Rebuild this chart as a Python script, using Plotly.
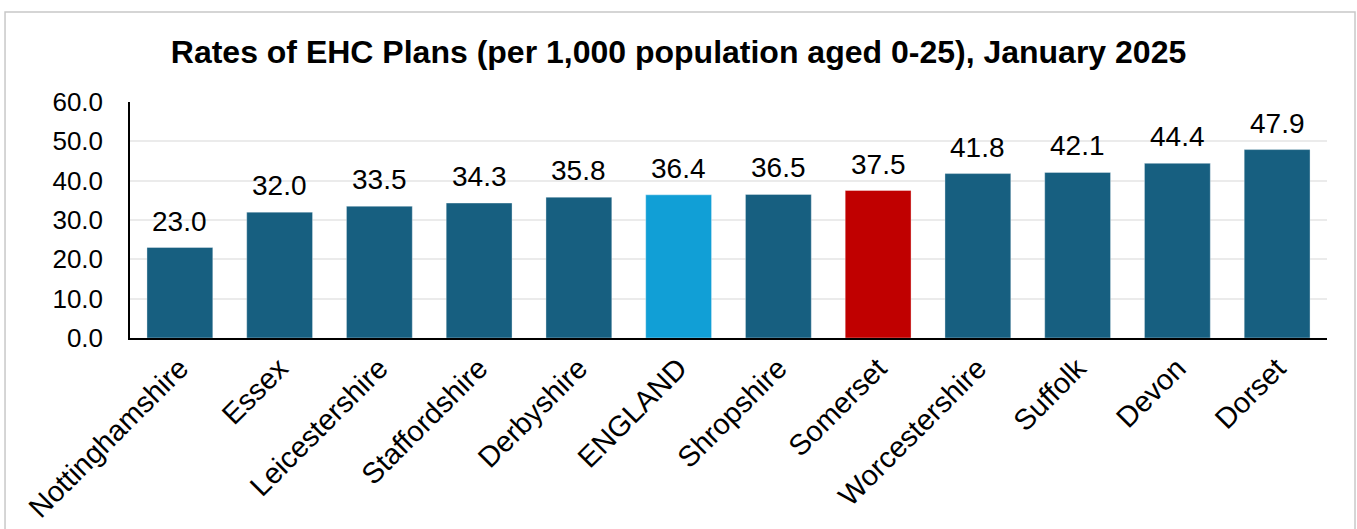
import plotly.graph_objects as go

categories = ["Nottinghamshire", "Essex", "Leicestershire", "Staffordshire", "Derbyshire",
              "ENGLAND", "Shropshire", "Somerset", "Worcestershire", "Suffolk", "Devon", "Dorset"]
values = [23.0, 32.0, 33.5, 34.3, 35.8, 36.4, 36.5, 37.5, 41.8, 42.1, 44.4, 47.9]
y_ticks = [0, 10, 20, 30, 40, 50, 60]

base_color = "#175F80"
highlight = {"ENGLAND": "#119FD6", "Somerset": "#C00000"}
colors = [highlight.get(c, base_color) for c in categories]

FONT = "Liberation Sans, Arial, sans-serif"

fig = go.Figure()
fig.add_trace(go.Bar(
    x=categories, y=values,
    marker=dict(color=colors, line=dict(color="rgba(255,255,255,0.35)", width=1)),
    hoverinfo="x+y",
))

for c, v in zip(categories, values):
    fig.add_annotation(x=c, y=v, text=f"{v:.1f}", showarrow=False,
                       yanchor="bottom", yshift=9,
                       font=dict(family=FONT, size=28, color="#000000"))

fig.update_layout(
    width=1357, height=529,
    margin=dict(l=130, r=30, t=102, b=191),
    paper_bgcolor="white", plot_bgcolor="white",
    bargap=0.34,
    showlegend=False,
    title=dict(text="<b>Rates of EHC Plans (per 1,000 population aged 0-25), January 2025</b>",
               x=0.5, xanchor="center", y=0.902, yanchor="middle", yref="container",
               font=dict(family=FONT, size=32, color="#000000")),
    font=dict(family=FONT, size=26, color="#000000"),
    xaxis=dict(tickangle=-45, showline=True, linecolor="#000000", linewidth=1.5,
               ticks="", tickfont=dict(size=29), showgrid=False, automargin=False),
    yaxis=dict(range=[0, 60], tickvals=y_ticks, tickformat=".1f",
               showline=True, linecolor="#000000", linewidth=1.5,
               gridcolor="#EBEBEB", gridwidth=1.5, ticks="", zeroline=False,
               ticklabelstandoff=20, tickfont=dict(size=26), automargin=False),
    shapes=[dict(type="rect", xref="paper", yref="paper",
                 x0=-0.1044, x1=1.0234, y0=-0.95, y1=1.381,
                 line=dict(color="#C8C8C8", width=1.5), fillcolor="rgba(0,0,0,0)", layer="below")],
)

fig.write_html("out.html", config={"displayModeBar": False},
               post_script="document.body.style.margin='0';")
